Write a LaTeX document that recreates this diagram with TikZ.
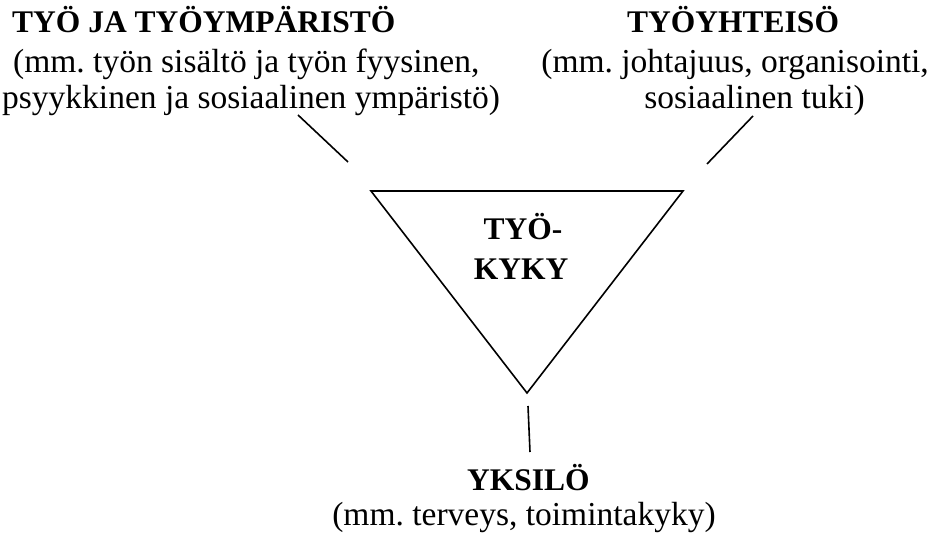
\documentclass[tikz,border=0pt]{standalone}
\usepackage{fontspec}
\setmainfont{Liberation Serif}
\frenchspacing
\tikzset{
  lbl/.style={inner sep=0pt, font=\fontsize{33.5}{40}\selectfont},
  bold/.style={lbl, font=\fontsize{31.5}{38}\selectfont\bfseries},
  link/.style={line width=1.6pt},
}
\begin{document}
\begin{tikzpicture}[x=1pt,y=-1pt]
\useasboundingbox (0,0) rectangle (932,534);
% triangle
\coordinate (tl) at (371,191);
\coordinate (tr) at (683,191);
\coordinate (bt) at (527,393);
\draw[link, line join=miter] (tl) -- (tr) -- (bt) -- cycle;
% texts
\node[bold, anchor=base west] (t1) at (12,33) {TYÖ JA TYÖYMPÄRISTÖ};
\node[lbl, anchor=base west] (t1a) at (13,73) {(mm. työn sisältö ja työn fyysinen,};
\node[lbl, anchor=base west] (t1b) at (2,109) {psyykkinen ja sosiaalinen ympäristö)};
\node[bold, anchor=base west] (t2) at (627,33) {TYÖYHTEISÖ};
\node[lbl, anchor=base east] (t2a) at (929,73) {(mm. johtajuus, organisointi,};
\node[lbl, anchor=base east] (t2b) at (865,109) {sosiaalinen tuki)};
\node[bold, anchor=base] (c1) at (523,240) {TYÖ-};
\node[bold, anchor=base] (c2) at (521,280) {KYKY};
\node[bold, anchor=base west] (b1) at (467,490) {YKSILÖ};
\node[lbl, anchor=base] (b1a) at (524,525) {(mm. terveys, toimintakyky)};
% connectors
\coordinate (l1) at (298,115);
\coordinate (l2) at (348,162);
\coordinate (r1) at (753,116);
\coordinate (r2) at (707,164);
\coordinate (d1) at (528,406);
\coordinate (d2) at (530,452);
\draw[link] (l1) -- (l2);
\draw[link] (r1) -- (r2);
\draw[link] (d1) -- (d2);
\end{tikzpicture}
\end{document}
